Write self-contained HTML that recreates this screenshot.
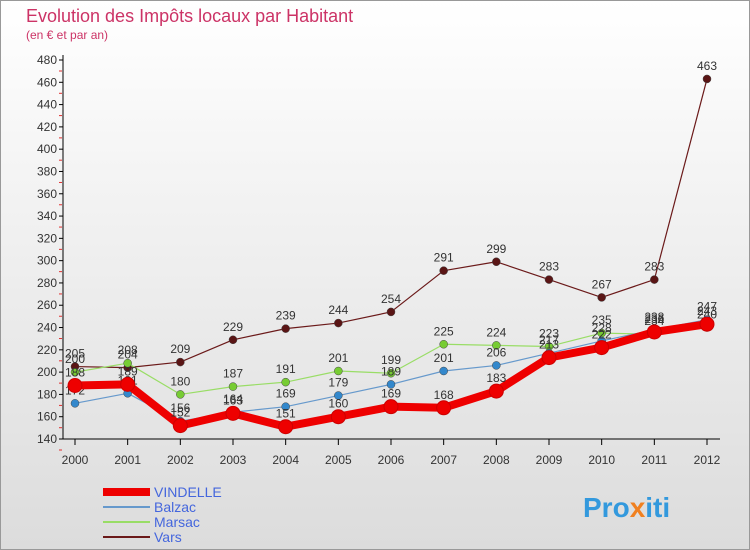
<!DOCTYPE html>
<html><head><meta charset="utf-8"><style>
body{margin:0;width:750px;height:550px;overflow:hidden;font-family:"Liberation Sans",sans-serif}
svg{display:block}
</style></head><body>
<svg width="750" height="550" xmlns="http://www.w3.org/2000/svg">
<defs><linearGradient id="bg" x1="0" y1="0" x2="0" y2="1"><stop offset="0" stop-color="#ffffff"/><stop offset="1" stop-color="#dcdcdc"/></linearGradient></defs>
<rect x="0.5" y="0.5" width="749" height="549" fill="url(#bg)" stroke="#999"/>
<text x="26" y="22" font-size="18" fill="#cc3366">Evolution des Impôts locaux par Habitant</text>
<text x="26" y="39" font-size="12" fill="#cc3366">(en € et par an)</text>
<g id="axes"></g>
<g id="series"></g>
<g id="legend" font-size="14"></g>
<text x="583" y="517" font-size="28" font-weight="bold" fill="#3399dd">Pro<tspan fill="#f08020">x</tspan>iti</text>
</svg>
<script>
const years=[2000,2001,2002,2003,2004,2005,2006,2007,2008,2009,2010,2011,2012];
const vindelle=[188,189,152,163,151,160,169,168,183,213,222,236,243];
const balzac=[172,181,156,164,169,179,189,201,206,217,228,238,247];
const marsac=[200,208,180,187,191,201,199,225,224,223,235,234,240];
const vars=[205,204,209,229,239,244,254,291,299,283,267,283,463];
const yTicks=[140,160,180,200,220,240,260,280,300,320,340,360,380,400,420,440,460,480];
const NS="http://www.w3.org/2000/svg";
const xS=i=>75+i*(707-75)/(years.length-1);
const yS=v=>439-(v-140)*(439-60)/340;
function mk(tag,attrs,parent,text){const e=document.createElementNS(NS,tag);for(const k in attrs)e.setAttribute(k,attrs[k]);if(text!==undefined)e.textContent=text;parent.appendChild(e);return e;}
const ax=document.getElementById('axes');
let yl=mk('line',{x1:63,y1:55,x2:63,y2:439,stroke:'#000'},ax);


let xl=mk('line',{x1:63,y1:439,x2:720,y2:439,stroke:'#000'},ax);


yTicks.forEach(t=>{const y=yS(t);
mk('line',{x1:59,y1:y,x2:63,y2:y,stroke:'#000'},ax);
mk('line',{x1:59,y1:y+11,x2:62,y2:y+11,stroke:'#e03030'},ax);
const tx=mk('text',{x:57,y:y+4,'font-size':12,'text-anchor':'end',fill:'#333'},ax,t);

});
years.forEach((yr,i)=>{const x=xS(i);
mk('line',{x1:x,y1:439,x2:x,y2:445,stroke:'#000'},ax);
const tx=mk('text',{x:x,y:464,'font-size':12,'text-anchor':'middle',fill:'#333'},ax,yr);

});
const sg=document.getElementById('series');
const defs=[['vars',vars,'#6b1a1a',1.2,4,'#5a1515'],['marsac',marsac,'#99dd66',1.2,4,'#77cc33'],['balzac',balzac,'#6699cc',1.2,4,'#3388cc'],['vindelle',vindelle,'#ee0000',8,7,'#ee0000']];
defs.forEach(([n,d,c,w,r,mc])=>{const g=mk('g',{},sg);


const pl=mk('polyline',{points:d.map((v,i)=>xS(i)+','+yS(v)).join(' '),fill:'none',stroke:c,'stroke-width':w,'stroke-linejoin':'round'},g);


d.forEach((v,i)=>{const p=mk('circle',{cx:xS(i),cy:yS(v),r:r,fill:mc,stroke:n==='vindelle'?'#cc0000':'#444','stroke-width':n==='vindelle'?1:0.5},g);


const t=mk('text',{x:xS(i),y:yS(v)-9,'font-size':12,'text-anchor':'middle',fill:'#333'},g,v);

});});
const lg=document.getElementById('legend');
[['VINDELLE','#ee0000',8],['Balzac','#6699cc',2],['Marsac','#99dd66',2],['Vars','#6b1a1a',2]].forEach(([n,c,w],i)=>{const y=492+i*15;
const ln=mk('line',{x1:103,y1:y,x2:150,y2:y,stroke:c,'stroke-width':w},lg);


const t=mk('text',{x:154,y:y+5,fill:'#4466dd'},lg,n);

});
</script>
</body></html>
